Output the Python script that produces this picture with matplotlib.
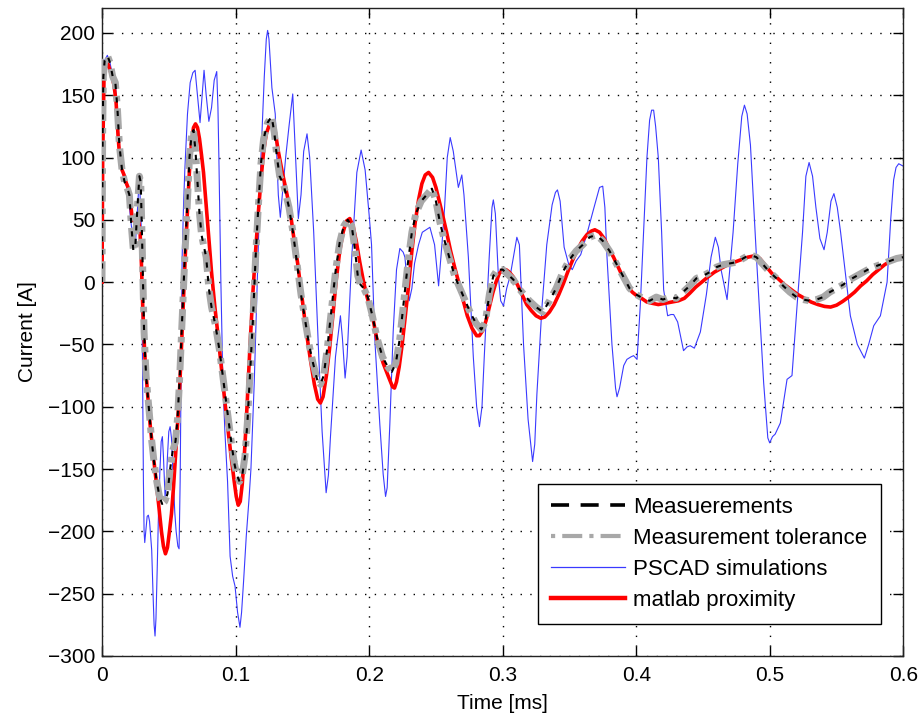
import matplotlib
matplotlib.use("Agg")
import matplotlib.pyplot as plt

# time axis in ms, current in A
t_meas = [0.0, 0.0005, 0.001, 0.002, 0.004, 0.006, 0.008, 0.010, 0.0115, 0.013,
          0.015, 0.017, 0.019, 0.0205, 0.022, 0.0235, 0.025, 0.0265, 0.028, 0.029,
          0.030, 0.0315, 0.033, 0.035, 0.037, 0.039, 0.041, 0.043, 0.045, 0.047,
          0.049, 0.051, 0.053, 0.055, 0.0565, 0.058, 0.060, 0.062, 0.064, 0.0655,
          0.067, 0.0685, 0.070, 0.0715, 0.073, 0.0745, 0.076, 0.078, 0.080, 0.082,
          0.085, 0.088, 0.091, 0.094, 0.097, 0.099, 0.101, 0.103, 0.105, 0.107,
          0.109, 0.111, 0.113, 0.115, 0.117, 0.119, 0.121, 0.124, 0.127, 0.129,
          0.131, 0.133, 0.136, 0.140, 0.143, 0.146, 0.149, 0.152, 0.155, 0.158,
          0.161, 0.1635, 0.166, 0.169, 0.172, 0.175, 0.178, 0.181, 0.184, 0.187,
          0.1895, 0.1915, 0.1935, 0.196, 0.199, 0.202, 0.206, 0.210, 0.214, 0.217,
          0.220, 0.223, 0.226, 0.229, 0.232, 0.235, 0.239, 0.243, 0.247, 0.250,
          0.253, 0.256, 0.260, 0.264, 0.268, 0.272, 0.276, 0.280, 0.284, 0.287,
          0.290, 0.293, 0.296, 0.300, 0.304, 0.308, 0.312, 0.316, 0.320, 0.325,
          0.330, 0.335, 0.340, 0.345, 0.350, 0.355, 0.360, 0.365, 0.370, 0.375,
          0.380, 0.385, 0.390, 0.395, 0.400, 0.405, 0.410, 0.415, 0.420, 0.425,
          0.430, 0.435, 0.440, 0.445, 0.450, 0.455, 0.460, 0.465, 0.470, 0.475,
          0.480, 0.485, 0.490, 0.495, 0.500, 0.505, 0.510, 0.515, 0.520, 0.525,
          0.530, 0.535, 0.540, 0.545, 0.550, 0.555, 0.560, 0.565, 0.570, 0.575,
          0.580, 0.585, 0.590, 0.595, 0.600]
i_meas = [0, 120, 165, 178, 182, 176, 165, 160, 140, 110,
          90, 80, 75, 70, 45, 25, 30, 60, 85, 80,
          35, -40, -75, -100, -125, -145, -160, -172, -178, -176,
          -170, -150, -135, -128, -110, -80, -30, 20, 65, 100,
          118, 122, 105, 80, 55, 38, 30, 20, -5, -20,
          -35, -55, -80, -105, -130, -145, -155, -160, -155, -140,
          -110, -70, -30, 20, 60, 95, 115, 128, 133, 120,
          100, 85, 78, 60, 40, 15, -10, -30, -50, -65,
          -78, -82, -75, -50, -20, 10, 32, 45, 50, 45,
          25, 5, -2, -5, -12, -25, -45, -60, -68, -72,
          -65, -45, -15, 15, 40, 55, 65, 70, 75, 65,
          48, 35, 20, 5, -5, -15, -25, -33, -38, -32,
          -10, 5, 10, 10, 6, 2, -5, -10, -15, -20,
          -24, -15, -5, 8, 18, 25, 30, 36, 38, 33,
          25, 15, 5, -5, -10, -13, -15, -12, -14, -12,
          -13, -8, -3, 3, 5, 8, 12, 14, 15, 16,
          19, 22, 20, 14, 8, 3, -3, -8, -12, -14,
          -15, -14, -12, -8, -5, -2, 2, 5, 8, 11,
          13, 15, 17, 19, 20]

t_pscad = [0.0, 0.0005, 0.001, 0.002, 0.004, 0.006, 0.008, 0.010, 0.013, 0.016,
           0.019, 0.022, 0.025, 0.028, 0.0295, 0.030, 0.0305, 0.031, 0.0315, 0.032,
           0.0328, 0.0338, 0.0347, 0.0356, 0.0365, 0.0372, 0.0382, 0.039, 0.0397, 0.0404,
           0.0414, 0.0424, 0.0434, 0.0443, 0.0452, 0.046, 0.0472, 0.048, 0.049, 0.050,
           0.051, 0.052, 0.053, 0.0545, 0.0555, 0.0568, 0.0577, 0.0585, 0.0593, 0.060,
           0.061, 0.062, 0.064, 0.066, 0.068, 0.0697, 0.0715, 0.0734, 0.075, 0.0764,
           0.078, 0.080, 0.082, 0.084, 0.0859, 0.0868, 0.0875, 0.089, 0.0905, 0.092,
           0.094, 0.0959, 0.0978, 0.0996, 0.1015, 0.1033, 0.1045, 0.106, 0.108, 0.110,
           0.1115, 0.114, 0.1165, 0.119, 0.1215, 0.123, 0.124, 0.125, 0.1272, 0.1297,
           0.132, 0.1335, 0.135, 0.1375, 0.140, 0.1428, 0.1445, 0.147, 0.149, 0.151,
           0.1535, 0.1555, 0.1585, 0.1623, 0.1648, 0.1678, 0.1695, 0.171, 0.1748, 0.1785,
           0.180, 0.182, 0.1835, 0.187, 0.1908, 0.194, 0.197, 0.200, 0.2018, 0.2043,
           0.208, 0.2105, 0.2123, 0.2135, 0.2155, 0.218, 0.2205, 0.223, 0.2255, 0.2268,
           0.2285, 0.230, 0.232, 0.234, 0.237, 0.2398, 0.2455, 0.249, 0.252, 0.2545,
           0.2565, 0.2585, 0.2607, 0.263, 0.2668, 0.2694, 0.271, 0.2743, 0.278, 0.2805,
           0.2826, 0.2845, 0.2862, 0.2899, 0.292, 0.293, 0.2945, 0.2968, 0.2985, 0.3006,
           0.303, 0.3056, 0.308, 0.3106, 0.3125, 0.3156, 0.319, 0.3224, 0.324, 0.3256,
           0.3294, 0.333, 0.337, 0.3395, 0.341, 0.343, 0.346, 0.3495, 0.3521, 0.355,
           0.3584, 0.3634, 0.3684, 0.3725, 0.3749, 0.3765, 0.3781, 0.3818, 0.3845, 0.3856,
           0.3875, 0.3906, 0.393, 0.396, 0.398, 0.4006, 0.403, 0.4055, 0.408, 0.410,
           0.4115, 0.413, 0.4145, 0.4165, 0.419, 0.4205, 0.4235, 0.426, 0.428, 0.431,
           0.4335, 0.4354, 0.438, 0.4404, 0.4435, 0.448, 0.4525, 0.456, 0.4592, 0.4615,
           0.4635, 0.468, 0.4725, 0.476, 0.479, 0.481, 0.483, 0.4855, 0.490, 0.4954,
           0.4985, 0.4999, 0.502, 0.504, 0.5079, 0.5105, 0.5129, 0.5166, 0.5204, 0.5245,
           0.527, 0.5294, 0.532, 0.5345, 0.5375, 0.5406, 0.543, 0.5458, 0.548, 0.5505,
           0.553, 0.5603, 0.5655, 0.5708, 0.574, 0.5778, 0.5828, 0.5878, 0.5905, 0.5927,
           0.5945, 0.5965, 0.600]
i_pscad = [0, 120, 165, 178, 182, 176, 165, 160, 110, 85,
           75, 45, 30, 85, 40, -20, -90, -160, -200, -209,
           -200, -188, -187, -192, -205, -215, -250, -275, -284, -270,
           -227, -180, -150, -128, -124, -140, -172, -165, -140, -120,
           -116, -125, -150, -185, -200, -212, -214, -160, -60, 20,
           60, 90, 135, 160, 168, 170, 150, 128, 150, 170,
           150, 129, 140, 162, 169, 140, 100, 0, -80, -120,
           -160, -220, -236, -244, -265, -277, -265, -240, -204, -175,
           -150, -80, 10, 100, 165, 195, 202, 195, 156, 135,
           70, 52, 70, 100, 125, 151, 110, 51, 70, 105,
           119, 100, 40, -60, -120, -169, -155, -125, -60, -27,
           -45, -77, -60, 20, 88, 106, 90, 54, 30, -47,
           -114, -154, -172, -165, -114, -40, 10, 27, 24, 20,
           0, -15, -5, 15, 30, 40, 44, 30, -3, 30,
           60, 100, 116, 105, 76, 86, 70, 20, -60, -100,
           -116, -100, -60, 20, 60, 66, 55, 4, -15, -19,
           -5, 5, 20, 36, 30, -50, -110, -144, -130, -90,
           -20, 30, 62, 72, 74, 65, 28, 14, 10, 17,
           22, 40, 60, 76, 77, 60, 20, -50, -85, -92,
           -85, -67, -62, -60, -59, -62, -19, 40, 100, 130,
           138, 138, 125, 100, 40, -6, -27, -26, -26, -32,
           -45, -55, -52, -51, -53, -40, -10, 20, 36, 28,
           10, -14, 40, 95, 133, 142, 135, 110, 20, -81,
           -125, -129, -124, -122, -113, -95, -78, -75, -19, 40,
           85, 96, 85, 60, 35, 26, 40, 65, 71, 60,
           40, -27, -50, -61, -50, -35, -27, 0, 50, 82,
           92, 95, 93]

t_matlab = [0.0, 0.0005, 0.0015, 0.003, 0.0045, 0.006, 0.0075, 0.009, 0.0105, 0.012,
            0.0135, 0.015, 0.0165, 0.018, 0.0195, 0.021, 0.0225, 0.024, 0.026, 0.0275,
            0.0285, 0.0295, 0.0305, 0.032, 0.034, 0.036, 0.0385, 0.041, 0.043, 0.0445,
            0.046, 0.0475, 0.049, 0.0505, 0.052, 0.0535, 0.055, 0.0565, 0.058, 0.0595,
            0.061, 0.0625, 0.064, 0.0655, 0.067, 0.0685, 0.070, 0.0715, 0.073, 0.0745,
            0.076, 0.078, 0.080, 0.082, 0.0845, 0.087, 0.0895, 0.092, 0.0945, 0.097,
            0.099, 0.1005, 0.102, 0.1035, 0.105, 0.1065, 0.108, 0.1095, 0.111, 0.113,
            0.115, 0.117, 0.119, 0.121, 0.123, 0.1255, 0.1275, 0.1295, 0.132, 0.135,
            0.138, 0.1405, 0.143, 0.1465, 0.150, 0.153, 0.156, 0.159, 0.1615, 0.1635,
            0.1655, 0.168, 0.1705, 0.173, 0.1755, 0.178, 0.1805, 0.183, 0.1855, 0.188,
            0.1905, 0.193, 0.1955, 0.198, 0.2005, 0.203, 0.2065, 0.2105, 0.2145, 0.2175,
            0.219, 0.2205, 0.2225, 0.2245, 0.227, 0.2295, 0.232, 0.2345, 0.237, 0.2395,
            0.242, 0.2445, 0.2475, 0.250, 0.2525, 0.255, 0.258, 0.261, 0.264, 0.267,
            0.270, 0.2735, 0.277, 0.2805, 0.2825, 0.285, 0.2875, 0.290, 0.2925, 0.295,
            0.2975, 0.300, 0.3025, 0.305, 0.308, 0.311, 0.3145, 0.318, 0.3215, 0.325,
            0.3285, 0.3315, 0.335, 0.3385, 0.342, 0.3455, 0.349, 0.3525, 0.356, 0.3595,
            0.363, 0.3665, 0.369, 0.3725, 0.376, 0.3795, 0.383, 0.3865, 0.390, 0.3935,
            0.397, 0.4005, 0.404, 0.408, 0.412, 0.4165, 0.4215, 0.4265, 0.4315, 0.436,
            0.440, 0.4445, 0.449, 0.4535, 0.4585, 0.4635, 0.4685, 0.4735, 0.4785, 0.4835,
            0.488, 0.4925, 0.497, 0.5015, 0.506, 0.511, 0.516, 0.521, 0.526, 0.531,
            0.536, 0.541, 0.5455, 0.550, 0.5545, 0.559, 0.5635, 0.568, 0.5725, 0.577,
            0.5815, 0.586, 0.5905, 0.595, 0.600]
i_matlab = [0, 100, 165, 176, 175, 170, 165, 158, 145, 118,
            96, 90, 86, 80, 76, 68, 52, 49, 50, 48,
            40, 15, -20, -58, -88, -114, -140, -164, -185, -200,
            -212, -218, -213, -200, -186, -165, -140, -115, -88, -52,
            -13, 25, 58, 90, 112, 124, 127, 124, 115, 102,
            88, 62, 35, 8, -20, -44, -70, -96, -120, -143,
            -160, -172, -179, -176, -162, -140, -112, -80, -47, -8,
            25, 55, 82, 105, 119, 127, 128, 122, 105, 88,
            73, 60, 40, 15, -15, -40, -62, -82, -94, -97,
            -92, -75, -52, -25, 3, 25, 40, 49, 51, 45,
            32, 16, 2, -10, -20, -30, -50, -65, -76, -84,
            -85, -80, -68, -52, -28, -3, 25, 48, 66, 79,
            86, 88, 84, 76, 65, 54, 40, 25, 12, 0,
            -13, -27, -37, -43, -43, -39, -31, -20, -9, 0,
            7, 10, 10, 8, 4, -2, -10, -18, -23, -27,
            -29, -28, -24, -18, -10, -1, 9, 18, 26, 33,
            38, 41, 42, 40, 35, 27, 20, 12, 4, -3,
            -8, -11, -13, -16, -17, -18, -17, -16, -15, -13,
            -9, -4, 0, 4, 8, 11, 14, 16, 18, 20,
            21, 19, 13, 7, 3, -2, -6, -10, -13, -16,
            -18, -19.5, -20, -18.5, -15.5, -12, -8, -3, 1, 6,
            10, 14, 17, 19.5, 21]

tick_x = [0, 0.1, 0.2, 0.3, 0.4, 0.5, 0.6]
tick_x_labels = ["0", "0.1", "0.2", "0.3", "0.4", "0.5", "0.6"]
tick_y = [-300, -250, -200, -150, -100, -50, 0, 50, 100, 150, 200]

plt.rcParams["font.family"] = ["Liberation Sans", "DejaVu Sans"]
plt.rcParams["font.size"] = 15

fig = plt.figure(figsize=(9.19, 7.18), dpi=100)
ax = fig.add_axes([0.111, 0.0864, 0.872, 0.9025])

ax.plot(t_pscad, i_pscad, color="#3a3aff", lw=0.8, zorder=2)
ax.plot(t_matlab, i_matlab, color="#ff0000", lw=2.6, zorder=3)
ax.plot(t_meas, i_meas, color="#a8a8a8", lw=5.0, dashes=(3.0, 1.0, 0.8, 1.0), zorder=4)
ax.plot(t_meas, i_meas, color="k", lw=1.5, dashes=(2.5, 4.0), zorder=5)

# legend proxies (drawn in the reference's order)
h1, = ax.plot([], [], color="k", lw=2.6, dashes=(5, 3.2))
h2, = ax.plot([], [], color="#a8a8a8", lw=3.0, dashes=(1, 1.7, 4.8, 1.7))
h3, = ax.plot([], [], color="#3a3aff", lw=0.9)
h4, = ax.plot([], [], color="#ff0000", lw=3.2)
leg = ax.legend([h1, h2, h3, h4],
                ["Measuerements", "Measurement tolerance", "PSCAD simulations", "matlab proximity"],
                loc="lower right", bbox_to_anchor=(0.972, 0.049), borderaxespad=0,
                fancybox=False, framealpha=1, edgecolor="k", handlelength=3.3,
                handletextpad=0.4, labelspacing=0.45, borderpad=0.6, fontsize=16)
leg.get_frame().set_linewidth(1.0)
leg.set_zorder(10)

ax.set_xlim(0, 0.6)
ax.set_ylim(-300, 220)
ax.set_xticks(tick_x)
ax.set_xticklabels(tick_x_labels)
ax.set_yticks(tick_y)
ax.tick_params(direction="in", top=True, right=True, length=7, width=1.0)
ax.tick_params(axis="x", pad=7)
ax.tick_params(axis="y", pad=5)
ax.grid(True, color="k", lw=1.0, linestyle=(0, (1, 6)))
ax.set_axisbelow(True)
for s in ax.spines.values():
    s.set_linewidth(1.0)
    s.set_color("#222222")

ax.set_xlabel("Time [ms]", labelpad=7)
ax.set_ylabel("Current [A]", labelpad=8)

fig.savefig("out.png", dpi=100)
